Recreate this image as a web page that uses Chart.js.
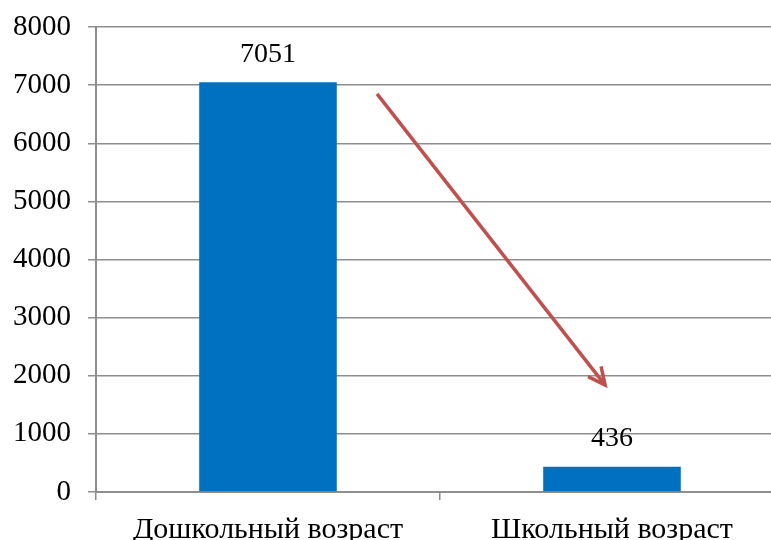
<!DOCTYPE html>
<html>
<head>
<meta charset="utf-8">
<script src="https://cdn.jsdelivr.net/npm/chart.js@4"></script>
<style>
    html, body { margin: 0; padding: 0; background: #fff; overflow: hidden; }
    #wrap { width: 784px; height: 540px; }
</style>
</head>
<body>
<div id="wrap"><canvas id="grafico" width="784" height="540"></canvas></div>
<script>
const categorias = ["Дошкольный возраст", "Школьный возраст"];
const valores = [7051, 436];
const ticksY = [0, 1000, 2000, 3000, 4000, 5000, 6000, 7000, 8000];

// seta de tendência, em coordenadas do gráfico (índice da categoria, valor)
const setaInicio = [0.317, 6850];
const setaFim = [0.98, 1840];

const corBarra = "#0070C0";
const corSeta = "#C0504D";
const corGrade = "#8e8e8e";
const fonte = "'Liberation Serif', 'Times New Roman', serif";

// Rótulos de valor acima das barras
const rotulosPlugin = {
    id: 'rotulos',
    afterDatasetsDraw(chart) {
        const ctx = chart.ctx;
        const meta = chart.getDatasetMeta(0);
        ctx.save();
        ctx.font = "28px " + fonte;
        ctx.fillStyle = "#000";
        ctx.textAlign = "center";
        ctx.textBaseline = "middle";
        meta.data.forEach((bar, i) => {
            ctx.fillText(String(valores[i]), bar.x, bar.y - 28);
        });
        ctx.restore();
    }
};

// Seta desenhada sobre o gráfico
const setaPlugin = {
    id: 'seta',
    afterDraw(chart) {
        const x = chart.scales.x, y = chart.scales.y;
        const x1 = x.getPixelForValue(setaInicio[0]), y1 = y.getPixelForValue(setaInicio[1]);
        const x2 = x.getPixelForValue(setaFim[0]), y2 = y.getPixelForValue(setaFim[1]);
        const ang = Math.atan2(y2 - y1, x2 - x1);
        const ponta = 19;
        const ctx = chart.ctx;
        ctx.save();
        ctx.strokeStyle = corSeta;
        ctx.lineWidth = 3.5;
        ctx.lineCap = "butt";
        ctx.beginPath();
        ctx.moveTo(x1, y1);
        ctx.lineTo(x2, y2);
        ctx.stroke();
        ctx.beginPath();
        ctx.moveTo(x2 - ponta * Math.cos(ang - 0.45), y2 - ponta * Math.sin(ang - 0.45));
        ctx.lineTo(x2, y2);
        ctx.lineTo(x2 - ponta * Math.cos(ang + 0.45), y2 - ponta * Math.sin(ang + 0.45));
        ctx.stroke();
        ctx.restore();
    }
};

const data = {
    labels: categorias,
    datasets: [{
        data: valores,
        backgroundColor: corBarra,
        borderWidth: 0,
        categoryPercentage: 1,
        barPercentage: 0.4
    }]
};

const config = {
    type: 'bar',
    data: data,
    options: {
        responsive: false,
        animation: false,
        layout: { padding: { top: 27, left: 0, right: 0, bottom: 0 } },
        plugins: {
            legend: { display: false },
            tooltip: { enabled: false }
        },
        scales: {
            x: {
                offset: true,
                grid: {
                    offset: true,
                    drawOnChartArea: false,
                    drawTicks: true,
                    tickLength: 8,
                    color: corGrade,
                    lineWidth: 1.5
                },
                border: { color: corGrade, width: 2 },
                ticks: {
                    color: "#000",
                    font: { family: fonte, size: 30 },
                    padding: 12,
                    maxRotation: 0
                },
                afterFit(scale) { scale.height = 48; }
            },
            y: {
                min: 0,
                max: 8000,
                afterBuildTicks(scale) {
                    scale.ticks = ticksY.map(v => ({ value: v }));
                },
                grid: {
                    color: corGrade,
                    lineWidth: 1.5,
                    tickLength: 8
                },
                border: { color: corGrade, width: 2 },
                ticks: {
                    color: "#000",
                    font: { family: fonte, size: 29 },
                    padding: 17,
                    callback: v => String(v)
                },
                afterFit(scale) {
                    scale.width = 96;
                    scale.paddingTop = 0;
                    scale.paddingBottom = 0;
                }
            }
        }
    },
    plugins: [rotulosPlugin, setaPlugin]
};

let grafico = new Chart(document.getElementById('grafico'), config);
</script>
</body>
</html>
